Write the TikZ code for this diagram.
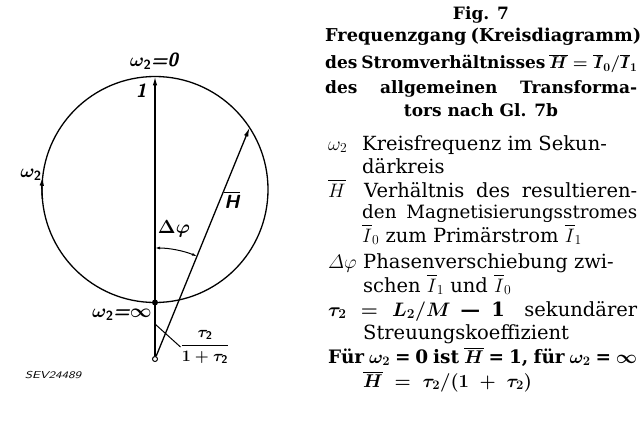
\RequirePackage{fix-cm}
\documentclass[tikz,border=0pt]{standalone}
\usepackage{fontspec}
\usepackage{amsmath}
\setmainfont{DejaVu Serif}
\usetikzlibrary{calc,arrows.meta}
\begin{document}
\begin{tikzpicture}[x=1pt,y=-1pt,
  ln/.style={line width=1.3pt},
  tip/.style={-{Latex[length=9pt,width=4.5pt]}},
  lbl/.style={font=\fontsize{19}{21}\selectfont\sffamily\bfseries\itshape\boldmath, inner sep=0},
  txt/.style={font=\fontsize{19.5}{24}\selectfont, anchor=base west, inner sep=0},
  btxt/.style={font=\fontsize{18.5}{24}\selectfont\bfseries\boldmath, anchor=base west, inner sep=0},
  head/.style={font=\fontsize{17}{20}\selectfont\bfseries\boldmath, anchor=base west, inner sep=0}]
\useasboundingbox (0,0) rectangle (642,425);
% ---------- diagram ----------
\coordinate (C) at (155,189.5);
\draw[ln] (C) circle[radius=113];
\node[circle, draw, line width=1pt, fill=white, inner sep=0, minimum size=5pt] (O) at (155,359) {};
\coordinate (T) at (155,76.5);
\coordinate (P) at ($(C)+(-33.2:113)$);
\coordinate (tl) at (155,324);
\draw[ln, tip] (O) -- (T);
\draw[ln, tip] (O) -- (P);
\node[circle, fill, inner sep=0, minimum size=6pt] (B) at (155,302.5) {};
\draw[ln, -{Latex[length=9pt,width=4.5pt]}] ($(C)+(175:113)$) arc[start angle=175, end angle=186.5, radius=113];
\draw[line width=1pt, {Latex[length=5pt,width=3pt]}-{Latex[length=5pt,width=3pt]}] ($(O)+(-90:111)$) arc[start angle=-90, end angle=-67.8, radius=111];
% labels
\node[lbl] (w0) at (154,61) {$\omega_{\mathsf{2}}$=0};
\node[lbl] (one) at (141,91) {1};
\node[lbl, anchor=east] (w2) at (42,175) {$\omega_{\mathsf{2}}$};
\node[lbl] (H) at (232,200) {$\overline{\hbox{H}}$};
\node[lbl] (dphi) at (174,229) {$\Delta\varphi$};
\node[lbl] (winf) at (122,315) {$\omega_{\mathsf{2}}$=$\infty$};
\node[lbl, font=\fontsize{16}{18}\selectfont\sffamily\bfseries\itshape\boldmath] (frac) at (205,347) {$\dfrac{\tau_{\mathsf{2}}}{1+\tau_{\mathsf{2}}}$};
\draw[line width=1pt] (tl) -- (frac.west);
\node[font=\fontsize{10}{11}\selectfont\sffamily\itshape, inner sep=0] (sev) at (53,375) {\scalebox{1.3}[1]{SEV24489}};
% ---------- caption ----------
\node[head, anchor=base] (fig) at (481,20) {Fig. 7};
\node[head, font=\fontsize{17.7}{20}\selectfont\bfseries] (h1) at (325,42) {\makebox[312pt][s]{Frequenzgang (Kreisdiagramm)}};
\node[head] (h2) at (325,69) {\makebox[312pt][s]{des Stromverhältnisses $\overline{H} = \overline{I}_0/\overline{I}_1$}};
\node[head] (h3) at (325,94) {\makebox[312pt][s]{des allgemeinen Transforma-}};
\node[head, anchor=base] (h4) at (481,117) {tors nach Gl. 7b};
% ---------- legend ----------
\node[txt] (s1) at (328,150) {$\omega_2$};
\node[txt] (t1) at (362,150) {Kreisfrequenz im Sekun-};
\node[txt] (t1b) at (362,173) {därkreis};
\node[txt] (s2) at (328,197) {$\overline{H}$};
\node[txt] (t2) at (364,197) {\makebox[273pt][s]{Verhältnis des resultieren-}};
\node[txt, font=\fontsize{18.3}{24}\selectfont] (t2b) at (362,218) {\makebox[275pt][s]{den Magnetisierungsstromes}};
\node[txt] (t2c) at (362,242) {$\overline{I}_0$ zum Primärstrom $\overline{I}_1$};
\node[txt] (s3) at (328,268) {$\varDelta\varphi$};
\node[txt] (t3) at (363,268) {Phasenverschiebung zwi-};
\node[txt] (t3b) at (363,292) {schen $\overline{I}_1$ und $\overline{I}_0$};
\node[txt] (t4) at (328,316) {\makebox[309pt][s]{{\boldmath$\tau_2 = L_2/M$ \textbf{— 1}}\quad sekundärer}};
\node[txt] (t4b) at (363,339) {Streuungskoeffizient};
\node[btxt] (t5) at (328,363) {\makebox[309pt][s]{Für $\omega_2$ = 0 ist $\overline{H}$ = 1, für $\omega_2$ = $\infty$}};
\node[btxt] (t5b) at (363,387) {$\overline{H}\;=\;\tau_2/(1\;+\;\tau_2)$};
\end{tikzpicture}
\end{document}
